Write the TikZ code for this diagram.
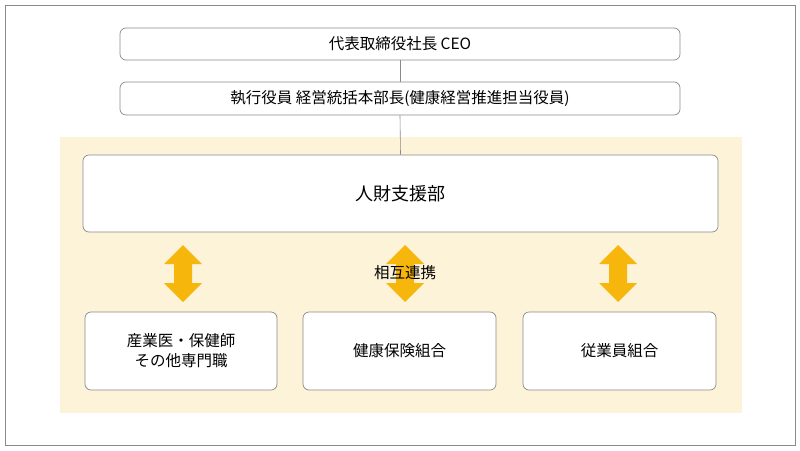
\documentclass[tikz,border=0pt]{standalone}
\usepackage{fontspec}
\setmainfont{Noto Sans CJK JP}
\definecolor{bg}{HTML}{FDF3D8}
\definecolor{ar}{HTML}{F6B60C}
\definecolor{ln}{HTML}{8A8A8A}
\tikzset{
 box/.style={draw=ln, fill=white, rounded corners=6pt, line width=0.7pt, align=center, font=\fontsize{15.5}{20}\selectfont, inner sep=0pt},
 dbl/.style={fill=ar, draw=none}
}
\begin{document}
\begin{tikzpicture}[x=1pt,y=-1pt]
\useasboundingbox (0,0) rectangle (800,450);
\draw[ln, line width=0.6pt] (5,5) rectangle (795,445);
\fill[bg] (60,137) rectangle (742,413);
\node[box, minimum width=560pt, minimum height=32pt] (ceo) at (400,44) {代表取締役社長 CEO};
\node[box, minimum width=560pt, minimum height=33pt] (exec) at (400,98.5) {執行役員 経営統括本部長(健康経営推進担当役員)};
\node[box, minimum width=635pt, minimum height=77pt, font=\fontsize{18}{22}\selectfont] (hr) at (400.5,193.5) {人財支援部};
\draw[ln, line width=0.6pt] (ceo.south) -- (exec.north);
\draw[ln, line width=0.6pt] (exec.south) -- (hr.north);
\node[box, minimum width=192pt, minimum height=78pt] (a) at (181,351) {産業医・保健師\\その他専門職};
\node[box, minimum width=193pt, minimum height=78pt] (b) at (399.5,351) {健康保険組合};
\node[box, minimum width=193pt, minimum height=78pt] (c) at (619.5,351) {従業員組合};
\foreach \cx in {183,405,618}{
 \fill[ar] (\cx,245) -- (\cx+19,264) -- (\cx+9,264) -- (\cx+9,283) -- (\cx+19,283) -- (\cx,302) -- (\cx-19,283) -- (\cx-9,283) -- (\cx-9,264) -- (\cx-19,264) -- cycle;
}
\node[font=\fontsize{15.5}{18}\selectfont] (lbl) at (405,273) {相互連携};
\end{tikzpicture}
\end{document}
